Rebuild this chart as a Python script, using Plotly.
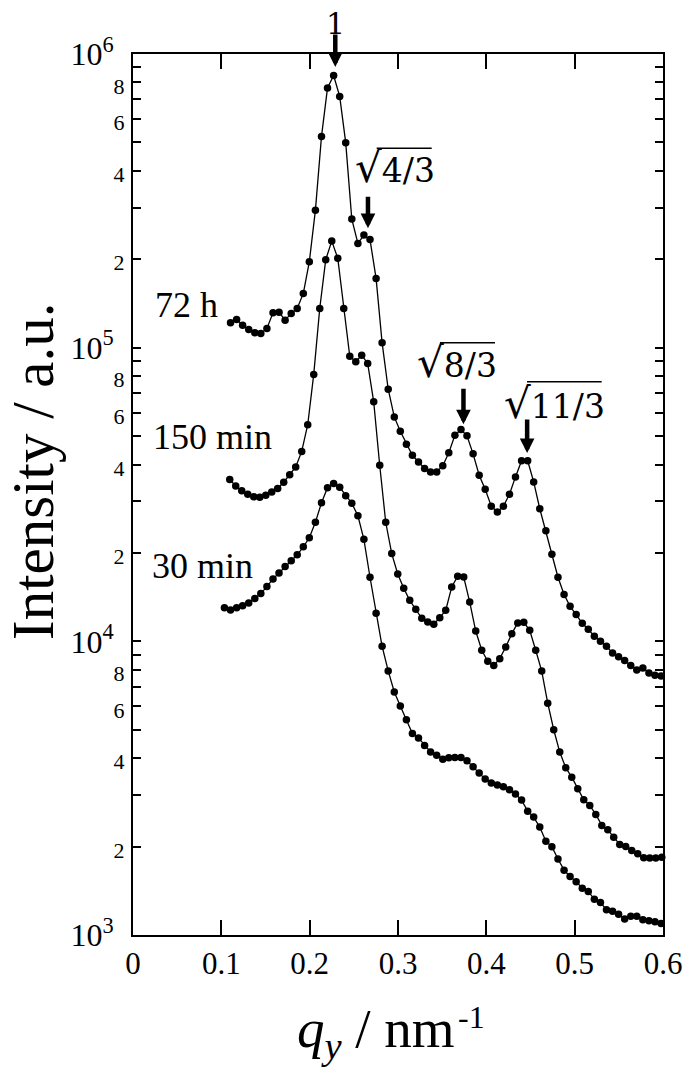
import plotly.graph_objects as go

# ---------------- data ----------------
q_30min = [0.1035, 0.1104, 0.1173, 0.1241, 0.1310, 0.1379, 0.1447, 0.1516, 0.1585, 0.1653,
           0.1722, 0.1791, 0.1859, 0.1928, 0.1996, 0.2065, 0.2134, 0.2202, 0.2271, 0.2340,
           0.2408, 0.2477, 0.2546, 0.2614, 0.2683, 0.2752, 0.2820, 0.2889, 0.2958, 0.3026,
           0.3095, 0.3163, 0.3232, 0.3301, 0.3369, 0.3438, 0.3507, 0.3575, 0.3644, 0.3713,
           0.3781, 0.3850, 0.3919, 0.3987, 0.4056, 0.4125, 0.4193, 0.4262, 0.4330, 0.4399,
           0.4468, 0.4536, 0.4605, 0.4674, 0.4742, 0.4811, 0.4880, 0.4948, 0.5017, 0.5086,
           0.5154, 0.5223, 0.5292, 0.5360, 0.5429, 0.5497, 0.5566, 0.5635, 0.5703, 0.5772,
           0.5841, 0.5909, 0.5978]
q_72h = q_30min[1:]
q_150min = [0.1095, 0.1163, 0.1231, 0.1299, 0.1367, 0.1435, 0.1503, 0.1571, 0.1638, 0.1706,
            0.1774, 0.1842, 0.1910, 0.1978, 0.2046, 0.2114, 0.2182, 0.2250, 0.2318, 0.2386,
            0.2454, 0.2522, 0.2589, 0.2657, 0.2725, 0.2793, 0.2861, 0.2929, 0.2997, 0.3065,
            0.3133, 0.3201, 0.3269, 0.3337, 0.3405, 0.3473, 0.3540, 0.3608, 0.3676, 0.3744,
            0.3812, 0.3880, 0.3948, 0.4016, 0.4084, 0.4152, 0.4220, 0.4288, 0.4356, 0.4424,
            0.4491, 0.4559, 0.4627, 0.4695, 0.4763, 0.4831, 0.4899, 0.4967, 0.5035, 0.5103,
            0.5171, 0.5239, 0.5307, 0.5375, 0.5442, 0.5510, 0.5578, 0.5646, 0.5714, 0.5782,
            0.5850, 0.5918, 0.5986]

I_72h = [1.215e5, 1.247e5, 1.193e5, 1.153e5, 1.123e5, 1.118e5, 1.163e5, 1.314e5, 1.321e5, 1.241e5,
         1.308e5, 1.360e5, 1.530e5, 1.960e5, 2.94e5, 5.24e5, 7.66e5, 8.45e5, 7.17e5, 4.99e5,
         2.74e5, 2.265e5, 2.417e5, 2.333e5, 1.721e5, 1.040e5, 7.22e4, 5.81e4, 5.19e4, 4.69e4,
         4.30e4, 4.08e4, 3.88e4, 3.775e4, 3.775e4, 3.963e4, 4.39e4, 5.03e4, 5.26e4, 5.01e4,
         4.35e4, 3.68e4, 3.295e4, 2.884e4, 2.757e4, 2.884e4, 3.17e4, 3.63e4, 4.12e4, 4.12e4,
         3.49e4, 2.828e4, 2.380e4, 1.979e4, 1.653e4, 1.443e4, 1.316e4, 1.233e4, 1.152e4, 1.099e4,
         1.040e4, 1.000e4, 9.62e3, 9.12e3, 8.87e3, 8.60e3, 8.28e3, 7.98e3, 8.11e3, 7.80e3,
         7.66e3, 7.62e3]

I_150min = [3.556e4, 3.382e4, 3.257e4, 3.170e4, 3.108e4, 3.095e4, 3.144e4, 3.227e4, 3.314e4, 3.481e4,
            3.693e4, 3.926e4, 4.434e4, 5.465e4, 8.11e4, 1.360e5, 1.994e5, 2.306e5, 2.017e5, 1.360e5,
            9.35e4, 8.95e4, 9.43e4, 8.84e4, 6.54e4, 3.979e4, 2.544e4, 1.990e4, 1.696e4, 1.516e4,
            1.379e4, 1.285e4, 1.198e4, 1.164e4, 1.143e4, 1.204e4, 1.275e4, 1.531e4, 1.666e4, 1.656e4,
            1.361e4, 1.084e4, 9.32e3, 8.55e3, 8.28e3, 8.73e3, 9.56e3, 1.062e4, 1.155e4, 1.161e4,
            1.090e4, 9.32e3, 7.92e3, 6.16e3, 5.00e3, 4.196e3, 3.712e3, 3.448e3, 3.148e3, 2.888e3,
            2.762e3, 2.574e3, 2.361e3, 2.282e3, 2.154e3, 2.034e3, 2.003e3, 1.941e3, 1.891e3, 1.833e3,
            1.83e3, 1.83e3, 1.841e3]

I_30min = [1.300e4, 1.278e4, 1.300e4, 1.321e4, 1.350e4, 1.398e4, 1.454e4, 1.536e4, 1.631e4, 1.708e4,
           1.797e4, 1.881e4, 1.971e4, 2.099e4, 2.252e4, 2.544e4, 2.964e4, 3.334e4, 3.446e4, 3.347e4,
           3.131e4, 2.953e4, 2.677e4, 2.226e4, 1.653e4, 1.246e4, 9.62e3, 7.93e3, 6.72e3, 6.02e3,
           5.41e3, 4.85e3, 4.69e3, 4.42e3, 4.20e3, 4.09e3, 3.97e3, 4.015e3, 4.025e3, 4.025e3,
           3.92e3, 3.742e3, 3.559e3, 3.395e3, 3.290e3, 3.244e3, 3.198e3, 3.124e3, 3.018e3, 2.880e3,
           2.641e3, 2.520e3, 2.330e3, 2.087e3, 1.998e3, 1.815e3, 1.663e3, 1.582e3, 1.519e3, 1.443e3,
           1.407e3, 1.323e3, 1.289e3, 1.219e3, 1.205e3, 1.176e3, 1.134e3, 1.158e3, 1.158e3, 1.127e3,
           1.118e3, 1.109e3, 1.094e3]

series_labels = ["72 h", "150 min", "30 min"]

x_tickvals = [0, 0.1, 0.2, 0.3, 0.4, 0.5, 0.6]
x_ticktext = ["0", "0.1", "0.2", "0.3", "0.4", "0.5", "0.6"]

y_decades = [1e3, 1e4, 1e5, 1e6]
y_mantissas = [2, 4, 6, 8]
y_minor_mantissas = [3, 5, 7, 9]

# ---------------- build ticks ----------------
FONT = "Liberation Serif"
y_tickvals, y_ticktext = [], []
for i, d in enumerate(y_decades):
    y_tickvals.append(d)
    exp = 3 + i
    y_ticktext.append("10<sup>%d</sup><span style='font-size:22px'>\u00a0\u00a0</span>" % exp)
    if i < len(y_decades) - 1:
        for m in y_mantissas:
            y_tickvals.append(m * d)
            y_ticktext.append("<span style='font-size:22px'>%d</span>" % m)
y_minor = [m * d for d in y_decades[:-1] for m in y_minor_mantissas]

fig = go.Figure()
for q, I in [(q_72h, I_72h), (q_150min, I_150min), (q_30min, I_30min)]:
    fig.add_trace(go.Scatter(
        x=q, y=I, mode="lines+markers",
        line=dict(color="black", width=1.3),
        marker=dict(color="black", size=7.5),
        showlegend=False, cliponaxis=False, hoverinfo="skip"))

axis_common = dict(ticks="inside", tickwidth=1.5, tickcolor="black",
                   showline=True, linecolor="black", linewidth=2,
                   mirror="ticks", showgrid=False, zeroline=False, automargin=False)

fig.update_layout(
    width=685, height=1076,
    margin=dict(l=133, r=22, t=54, b=141, autoexpand=False),
    paper_bgcolor="white", plot_bgcolor="white",
    showlegend=False,
    xaxis=dict(range=[0, 0.6], tickmode="array", tickvals=x_tickvals, ticktext=x_ticktext,
               ticklen=15, tickfont=dict(family=FONT, size=31, color="black"),
               **axis_common),
    yaxis=dict(type="log", range=[3, 6], tickmode="array", tickvals=y_tickvals,
               ticktext=y_ticktext, ticklen=8,
               tickfont=dict(family=FONT, size=32, color="black"),
               minor=dict(tickmode="array", tickvals=y_minor, ticks="inside", ticklen=8,
                          tickwidth=1.5, tickcolor="black", showgrid=False),
               **axis_common),
    yaxis2=dict(type="log", range=[3, 6], overlaying="y", side="left", anchor="x",
                tickmode="array", tickvals=y_decades, ticks="inside", ticklen=15,
                tickwidth=1.5, tickcolor="black", showticklabels=False, automargin=False,
                showline=False, mirror="ticks", showgrid=False, zeroline=False),
)

ann = []
# axis titles
ann.append(dict(text="Intensity / a.u.", xref="paper", yref="paper", x=-0.19, y=0.527,
                textangle=-90, showarrow=False, xanchor="center", yanchor="middle",
                font=dict(family=FONT, size=59, color="black")))
ann.append(dict(text="<i>q</i><sub><i>y</i></sub> / nm", xref="paper", yref="paper",
                x=0.6113, y=-0.1112, showarrow=False, xanchor="right", yanchor="middle",
                font=dict(family=FONT, size=55, color="black")))
ann.append(dict(text="-1", xref="paper", yref="paper",
                x=0.6094, y=-0.0931, showarrow=False, xanchor="left", yanchor="middle",
                font=dict(family=FONT, size=32, color="black")))
# series labels (q, log10 I)
for lab, (xq, ylog) in zip(series_labels, [(0.0221, 5.145), (0.0209, 4.695), (0.0187, 4.256)]):
    ann.append(dict(text=lab, x=xq, y=ylog, xref="x", yref="y", showarrow=False,
                    xanchor="left", yanchor="middle",
                    font=dict(family=FONT, size=36, color="black")))
# peak index labels and arrows
MATH = "DejaVu Serif"
ann.append(dict(text="1", x=0.383, y=1.035, xref="paper", yref="paper", showarrow=False,
                xanchor="center", yanchor="middle", font=dict(family=MATH, size=30, color="black")))
RAD = "<span style='font-size:42px'>√</span>"
peak_labels = [(RAD + "4/3", 0.2963, 5.612), (RAD + "8/3", 0.3664, 4.951), (RAD + "11/3", 0.4773, 4.811)]
for txt, xq, ylog in peak_labels:
    ann.append(dict(text=txt, x=xq, y=ylog, xref="x", yref="y", showarrow=False,
                    xanchor="center", yanchor="middle",
                    font=dict(family=MATH, size=33, color="black")))
arrows = [(0.229, 5.956, -34), (0.266, 5.407, -33), (0.3741, 4.739, -37), (0.4462, 4.641, -35)]
for xq, ylog, ay in arrows:
    ann.append(dict(text="", x=xq, y=ylog, xref="x", yref="y", ax=0, ay=ay,
                    showarrow=True, arrowhead=2, arrowsize=0.65, arrowwidth=4.5,
                    arrowcolor="black", standoff=0))
fig.update_layout(annotations=ann)

# vinculum lines over the square roots (paper coordinates)
bars = [(0.4598, 0.5636, 0.8930), (0.5792, 0.6830, 0.6723), (0.7434, 0.8843, 0.6280)]
for x0, x1, yp in bars:
    fig.add_shape(type="line", xref="paper", yref="paper", x0=x0, x1=x1, y0=yp, y1=yp,
                  line=dict(color="black", width=1.5))

fig.write_html("out.html", config={"displayModeBar": False},
               post_script="document.body.style.margin='0';document.body.style.padding='0';")
